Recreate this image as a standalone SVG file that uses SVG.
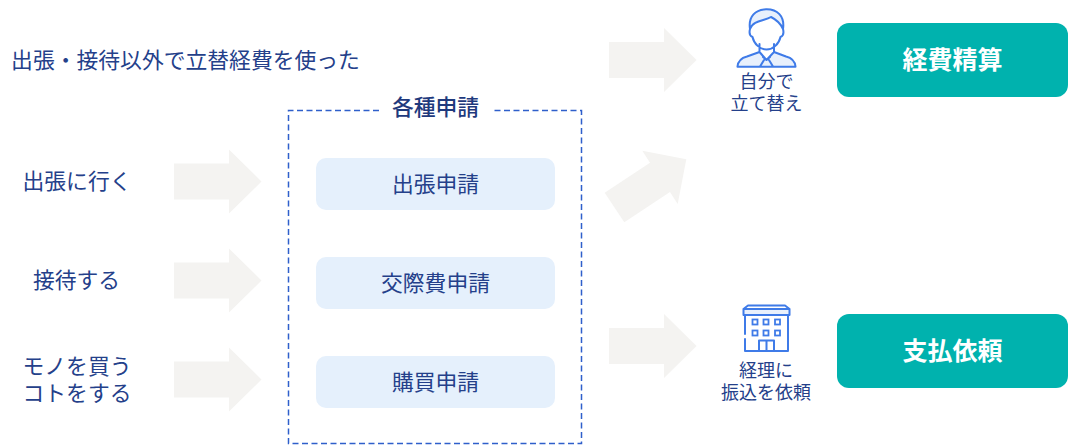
<svg xmlns="http://www.w3.org/2000/svg" width="1074" height="448" viewBox="0 0 1074 448">
<style>
text{font-family:"Noto Sans CJK JP","Noto Sans",sans-serif;fill:#24408a;text-anchor:middle}
.l{font-size:21.800px;font-weight:400}
.s{font-size:18px;font-weight:400}
.t{font-size:21.800px;font-weight:500;fill:#1f3a7d}
.w{font-size:25px;font-weight:700;fill:#fff}
.a{fill:#f4f3f1}
.i{fill:none;stroke:#3f7be8;stroke-width:2;stroke-linejoin:round;stroke-linecap:round}
.p{fill:#e5f0fc}
.b{fill:#00b2ae}
</style>
<defs><polygon id="ar" class="a" points="0,-18 55,-18 55,-32 87.500,0 55,32 55,18 0,18"/></defs>
<rect width="1074" height="448" fill="#fff"/>
<g id="connectors">
<use href="#ar" x="609" y="60"/>
<use href="#ar" x="174" y="181.500"/>
<use href="#ar" x="174" y="280.500"/>
<use href="#ar" x="174" y="379.500"/>
<use href="#ar" x="609" y="346"/>
<polygon class="a" points="642.3,150.7 686.3,159.3 677.7,204 670,192 624.3,222.3 604.7,192.7 650,162.7"/>
</g>
<g id="top-label"><text class="l" x="185.500" y="67.500">出張・接待以外で立替経費を使った</text></g>
<g id="l1"><text class="l" x="77" y="188.500">出張に行く</text></g>
<g id="l2"><text class="l" x="76.500" y="287.500">接待する</text></g>
<g id="l3"><text class="l" x="77" y="373.500">モノを買う</text><text class="l" x="77" y="400.500">コトをする</text></g>
<g id="group">
<path d="M379 110.500H288.500V443.500H581.500V110.500H491" fill="none" stroke="#2f5fcb" stroke-width="1.500" stroke-dasharray="6 3.500"/>
<text class="t" x="435.500" y="115">各種申請</text>
</g>
<g id="n1"><rect class="p" x="316" y="158" width="239" height="52" rx="10"/><text class="l" x="435.500" y="191.500">出張申請</text></g>
<g id="n2"><rect class="p" x="316" y="257" width="239" height="52" rx="10"/><text class="l" x="435.500" y="290.500">交際費申請</text></g>
<g id="n3"><rect class="p" x="316" y="356" width="239" height="52" rx="10"/><text class="l" x="435.500" y="389.500">購買申請</text></g>
<g id="person">
<path d="M738 66.500C739 60 743 57 749 56L759 52L766.500 60L774 52L784 56C790 57 795 60 795.500 66.500Z" fill="#e8f0fc" stroke="none"/>
<path d="M750 29C748 16 756 9.500 766 9.300C777 9 785 16 783 29C780 22 775 19 771 17C765 21 753 20 750 29Z" fill="#e8f0fc" stroke="none"/>
<path class="i" d="M750 29C748 16 756 9.500 766 9.300C777 9 785 16 783 29C780 22 775 19 771 17C765 21 753 20 750 29ZM750 29C749 33 750 36 752.500 37C754 44 760 49.500 766.500 49.500C773 49.500 779 44 780.500 37C783 36 784 33 783 29M759.500 44V52L747 56.500C741 58 738 61 737.500 66.700H795.500C795 61 792 58 786 56.500L774 52V44M759.500 52L766.500 60L774 52M763 57L766.500 60L770 57M764 60L760 66.500M769 60L773 66.500"/>
</g>
<g id="person-label"><text class="s" x="766.500" y="88">自分で</text><text class="s" x="766.500" y="110">立て替え</text></g>
<g id="building">
<path d="M743.500 309H789.500V315H743.500Z" fill="#e8f0fc"/>
<path class="i" d="M745 315V334M745 339V351H788V315M743.500 309V315H789.500V309ZM743.500 309L748 305.500H785L789.500 309M759 351V340.500H774V351M766.500 340.500V351"/>
<g fill="none" stroke="#3f7be8" stroke-width="1.800"><rect x="752.500" y="319.500" width="5" height="5"/><rect x="763.500" y="319.500" width="5" height="5"/><rect x="775" y="319.500" width="5" height="5"/><rect x="752.500" y="330.500" width="5" height="5"/><rect x="763.500" y="330.500" width="5" height="5"/><rect x="775" y="330.500" width="5" height="5"/></g>
</g>
<g id="building-label"><text class="s" x="766" y="376.500">経理に</text><text class="s" x="766" y="398.500">振込を依頼</text></g>
<g id="b1"><rect class="b" x="837" y="23" width="231" height="74" rx="12"/><text class="w" x="952.500" y="69">経費精算</text></g>
<g id="b2"><rect class="b" x="837" y="314" width="231" height="74" rx="12"/><text class="w" x="952.500" y="360">支払依頼</text></g>
</svg>
